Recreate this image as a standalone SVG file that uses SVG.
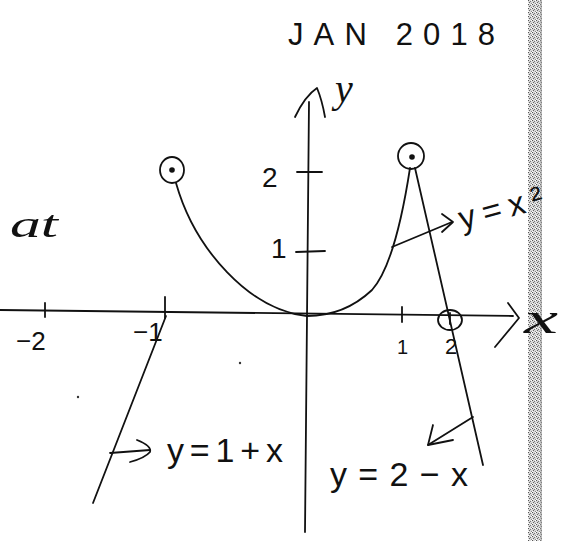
<svg xmlns="http://www.w3.org/2000/svg" width="581" height="541" viewBox="0 0 581 541">
<style>
.ln{fill:none;stroke:#111;stroke-width:1.8;stroke-linecap:round;stroke-linejoin:round}
.hw{font-family:"Liberation Sans","DejaVu Sans",sans-serif;fill:#111}
.it{font-family:"Liberation Serif","DejaVu Serif",serif;font-style:italic;fill:#111}
</style>
<defs>
<pattern id="dith" width="4" height="4" patternUnits="userSpaceOnUse">
<rect width="4" height="4" fill="#d8d8d8"/>
<rect x="0" y="0" width="1" height="1" fill="#555"/>
<rect x="2" y="1" width="1" height="1" fill="#777"/>
<rect x="1" y="2" width="1" height="1" fill="#666"/>
<rect x="3" y="3" width="1" height="1" fill="#888"/>
<rect x="3" y="0" width="1" height="1" fill="#fff"/>
<rect x="0" y="3" width="1" height="1" fill="#fff"/>
</pattern>
</defs>
<rect width="581" height="541" fill="#fff"/>
<g id="scan-edge">
<rect x="528" y="0" width="14" height="541" fill="url(#dith)"/>
<line x1="541" y1="0" x2="541" y2="541" stroke="#999" stroke-width="1"/>
</g>
<g id="title">
<text class="hw" x="288" y="45" font-size="31" textLength="207" lengthAdjust="spacing">JAN 2018</text>
</g>
<g id="axes">
<line class="ln" x1="0" y1="310" x2="513" y2="316"/>
<path class="ln" d="M508,303 L519,318 L495,347"/>
<line class="ln" x1="309" y1="102" x2="305" y2="532"/>
<path class="ln" d="M295,117 Q305,96 317,88 Q322,100 325,117"/>
<line class="ln" x1="297" y1="172" x2="322" y2="172"/>
<line class="ln" x1="296" y1="252" x2="325" y2="251"/>
<line class="ln" x1="45" y1="303" x2="45" y2="317"/>
<line class="ln" x1="165" y1="297" x2="165" y2="318"/>
<line class="ln" x1="402" y1="307" x2="402" y2="322"/>
<text class="it" x="335" y="102" font-size="40">y</text>
<text class="it" x="524" y="333" font-size="44" textLength="34" lengthAdjust="spacingAndGlyphs">x</text>
<text class="hw" x="262" y="187" font-size="28">2</text>
<text class="hw" x="271" y="258" font-size="28">1</text>
<text class="hw" x="16" y="350" font-size="26">−2</text>
<text class="hw" x="133" y="341" font-size="26">−1</text>
<text class="hw" x="397" y="354" font-size="20">1</text>
<text class="hw" x="445" y="354" font-size="22">2</text>
</g>
<g id="graph">
<path class="ln" d="M176,183 C195,250 250,310 307,316"/>
<path class="ln" d="M307,316 C335,316 355,306 372,290 C390,270 402,220 410,168"/>
<line class="ln" x1="415" y1="168" x2="483" y2="465"/>
<line class="ln" x1="166" y1="316" x2="93" y2="503"/>
</g>
<g id="points">
<ellipse class="ln" cx="172" cy="170" rx="12" ry="13"/>
<circle cx="172" cy="170" r="2.8" fill="#111"/>
<ellipse class="ln" cx="411" cy="156" rx="13" ry="13"/>
<circle cx="412" cy="157" r="2.8" fill="#111"/>
<ellipse class="ln" cx="450" cy="320" rx="12" ry="10"/>
<line class="ln" x1="450" y1="313" x2="450" y2="324"/>
</g>
<g id="connectors">
<path class="ln" d="M392,247 L452,222"/>
<path class="ln" d="M442,214 L453,222 L442,232"/>
<path class="ln" d="M110,453 L150,450"/>
<path class="ln" d="M137,440 Q152,446 150,452 Q145,458 130,462"/>
<path class="ln" d="M473,417 L428,445"/>
<path class="ln" d="M433,425 L428,445 L453,440"/>
</g>
<g id="labels">
<text class="hw" x="462" y="230" font-size="33" transform="rotate(-15 462 230)" textLength="86" lengthAdjust="spacing">y=x²</text>
<text class="hw" x="167" y="462" font-size="34" textLength="116" lengthAdjust="spacing">y=1+x</text>
<text class="hw" x="330" y="486" font-size="34" textLength="138" lengthAdjust="spacing">y=2−x</text>
<text class="it" x="10" y="237" font-size="38" textLength="48" lengthAdjust="spacingAndGlyphs">at</text>
</g>
<g id="specks">
<circle cx="78" cy="397" r="1.2" fill="#333"/>
<circle cx="240" cy="363" r="1.2" fill="#333"/>
</g>
</svg>
